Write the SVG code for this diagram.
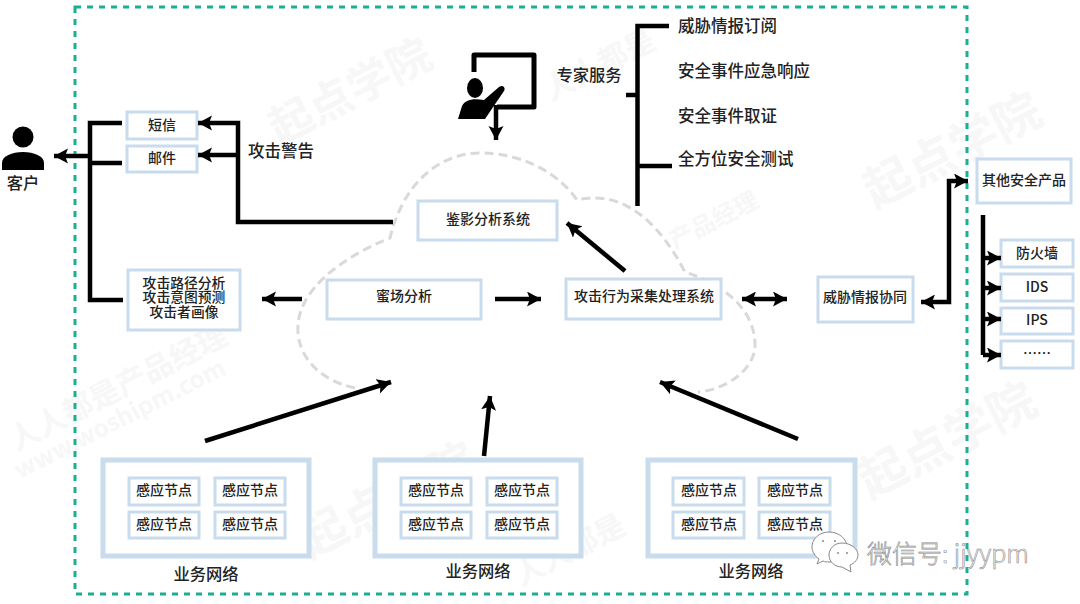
<svg xmlns="http://www.w3.org/2000/svg" width="1080" height="604" viewBox="0 0 1080 604">
<style>
text{font-family:"Noto Sans CJK SC","Liberation Sans",sans-serif;fill:#222;text-anchor:middle;dominant-baseline:central;font-weight:500}
.b{fill:#fff;stroke:#c9dcee;stroke-width:3}
.B{fill:#fff;stroke:#c9dcee;stroke-width:5}
.s{font-size:14px}
.m{font-size:16.3px}
.l{font-size:16.5px;text-anchor:start}
.c{fill:none;stroke:#000;stroke-width:4.5}
.a{marker-end:url(#h)}
text.w{fill:#f7f7f7;font-weight:700;text-anchor:start}
</style>
<defs>
<marker id="h" markerUnits="userSpaceOnUse" markerWidth="16" markerHeight="16" refX="14" refY="7.5" orient="auto"><path d="M0 0L14 7.5L0 15L3 7.5Z" fill="#000"/></marker>
<marker id="t" markerUnits="userSpaceOnUse" markerWidth="16" markerHeight="16" refX="0" refY="7.5" orient="auto"><path d="M14 0L0 7.5L14 15L11 7.5Z" fill="#000"/></marker>
</defs>
<rect width="1080" height="604" fill="#fff"/>
<g id="watermark">
<text class="w" transform="translate(10 440) rotate(-27)" style="font-size:30px">人人都是产品经理</text>
<text class="w" transform="translate(15 470) rotate(-27)" style="font-size:24px">www.woshipm.com</text>
<text class="w" transform="translate(545 90) rotate(-27)" style="font-size:30px">人人都是</text>
<text class="w" transform="translate(270 128) rotate(-27)" style="font-size:44px">起点学院</text>
<text class="w" transform="translate(865 190) rotate(-27)" style="font-size:48px">起点学院</text>
<text class="w" transform="translate(670 240) rotate(-27)" style="font-size:24px">产品经理</text>
<text class="w" transform="translate(300 540) rotate(-27)" style="font-size:48px">起点学院</text>
<text class="w" transform="translate(860 480) rotate(-27)" style="font-size:48px">起点学院</text>
<text class="w" transform="translate(515 575) rotate(-27)" style="font-size:30px">人人都是</text>
</g>
<rect id="frame" x="75" y="7" width="892" height="587" fill="none" stroke="#1aaf8f" stroke-width="3" stroke-dasharray="6 6"/>
<path id="cloud" d="M355 388C318 380 296 355 298 325C300 290 340 258 390 238C393 225 396 218 402 205C420 170 450 153 480 153C525 153 560 175 577 200C610 192 650 205 685 272C725 285 755 310 755 345C755 370 725 390 698 392" fill="none" stroke="#d9d9d9" stroke-width="3" stroke-dasharray="9 5"/>
<g id="customer"><circle cx="23" cy="137" r="10.5"/><path d="M2 170V163C2 156 12 152 23 152S44 156 44 163V170Z"/><text class="m" x="23" y="182">客户</text></g>
<g id="expert"><path d="M474 72V55H534V107H497" fill="none" stroke="#000" stroke-width="5" stroke-linejoin="round"/><ellipse cx="475" cy="88" rx="8" ry="10"/><path d="M458 119L462 106C465 100 472 98 484 100L499 87C503 84 506 88 504 91L485 119Z"/></g>
<g id="labels">
<text class="m" x="589" y="74">专家服务</text>
<text class="l" x="678" y="25">威胁情报订阅</text>
<text class="l" x="678" y="70">安全事件应急响应</text>
<text class="l" x="678" y="115">安全事件取证</text>
<text class="l" x="678" y="158">全方位安全测试</text>
<text class="l" x="248" y="150">攻击警告</text>
<text class="m" x="206" y="573">业务网络</text>
<text class="m" x="478" y="570">业务网络</text>
<text class="m" x="751" y="570">业务网络</text>
</g>
<g id="sms"><rect class="b" x="127" y="112" width="70" height="27"/><text class="s" x="162" y="124">短信</text></g>
<g id="mail"><rect class="b" x="127" y="146" width="70" height="26"/><text class="s" x="162" y="157">邮件</text></g>
<g id="profile"><rect class="b" x="128" y="270" width="112" height="60"/><text class="s" y="281.5" style="font-size:13.8px"><tspan x="184">攻击路径分析</tspan><tspan x="184" dy="14.5">攻击意图预测</tspan><tspan x="184" dy="14.5">攻击者画像</tspan></text></g>
<g id="honey"><rect class="b" x="327" y="280" width="154" height="39"/><text class="s" x="404" y="295">蜜场分析</text></g>
<g id="forensic"><rect class="b" x="418" y="201" width="139" height="39"/><text class="s" x="488" y="218">鉴影分析系统</text></g>
<g id="collect"><rect class="b" x="566" y="279" width="155" height="40"/><text class="s" x="644" y="295">攻击行为采集处理系统</text></g>
<g id="intel"><rect class="b" x="818" y="277" width="95" height="45"/><text class="s" x="865" y="296">威胁情报协同</text></g>
<g id="other"><rect class="b" x="977" y="159" width="94" height="44"/><text class="s" x="1024" y="179">其他安全产品</text></g>
<g id="fw"><rect class="b" x="1001" y="240" width="72" height="27"/><text class="s" x="1037" y="252">防火墙</text></g>
<g id="ids"><rect class="b" x="1001" y="274" width="72" height="27"/><text class="s" x="1037" y="286">IDS</text></g>
<g id="ips"><rect class="b" x="1001" y="308" width="72" height="26"/><text class="s" x="1037" y="319">IPS</text></g>
<g id="more"><rect class="b" x="1001" y="341" width="72" height="27"/><text class="s" x="1037" y="352">……</text></g>
<g id="net1"><rect class="B" x="103" y="460" width="206" height="96"/>
<rect class="b" x="129" y="478" width="70" height="27"/><text class="s" x="164" y="489">感应节点</text>
<rect class="b" x="215" y="478" width="70" height="27"/><text class="s" x="250" y="489">感应节点</text>
<rect class="b" x="129" y="512" width="70" height="26"/><text class="s" x="164" y="523">感应节点</text>
<rect class="b" x="215" y="512" width="70" height="26"/><text class="s" x="250" y="523">感应节点</text></g>
<g id="net2"><rect class="B" x="375" y="460" width="206" height="96"/>
<rect class="b" x="401" y="478" width="70" height="27"/><text class="s" x="436" y="489">感应节点</text>
<rect class="b" x="487" y="478" width="70" height="27"/><text class="s" x="522" y="489">感应节点</text>
<rect class="b" x="401" y="512" width="70" height="26"/><text class="s" x="436" y="523">感应节点</text>
<rect class="b" x="487" y="512" width="70" height="26"/><text class="s" x="522" y="523">感应节点</text></g>
<g id="net3"><rect class="B" x="648" y="460" width="207" height="96"/>
<rect class="b" x="673" y="478" width="71" height="27"/><text class="s" x="709" y="489">感应节点</text>
<rect class="b" x="759" y="478" width="71" height="27"/><text class="s" x="795" y="489">感应节点</text>
<rect class="b" x="673" y="512" width="71" height="26"/><text class="s" x="709" y="523">感应节点</text>
<rect class="b" x="759" y="512" width="71" height="26"/><text class="s" x="795" y="523">感应节点</text></g>
<g id="connectors">
<path class="c" d="M122 123H90V300H123M122 163H90"/>
<path class="c a" d="M90 156H54"/>
<path class="c a" d="M393 222H238V123H198"/>
<path class="c a" d="M238 155H198"/>
<path class="c a" d="M302 299H262"/>
<path class="c a" d="M495 299H541"/>
<path class="c a" d="M625 271L567 223"/>
<path class="c a" d="M742 299H787" style="marker-start:url(#t)"/>
<path class="c a" d="M921 302H949V181H968" style="marker-start:url(#t)"/>
<path class="c" d="M983 215V355"/>
<path class="c a" d="M983 258H1001"/>
<path class="c a" d="M983 288H1001"/>
<path class="c a" d="M983 319H1001"/>
<path class="c a" d="M983 355H1001"/>
<path class="c a" d="M205 441L391 382"/>
<path class="c a" d="M484 456L490 396"/>
<path class="c a" d="M798 439L660 382"/>
<path class="c a" d="M496 105V140"/>
<path class="c" d="M637.5 206V26H669M626 95H637.5M637.5 166H672"/>
</g>
<g id="wechat">
<path d="M829 532C819 532 812 539 812 547C812 552 815 556 819 559L817 564L823 561C825 562 827 562 829 562C840 562 847 555 847 547C847 539 839 532 829 532Z" fill="#fff" stroke="#888"/>
<path d="M842 543C834 543 829 549 829 555C829 562 835 567 842 567L851 572L850 565C855 563 858 559 858 555C858 549 851 543 842 543Z" fill="#fff" stroke="#888"/>
<circle cx="823" cy="541" r="1" fill="#888"/><circle cx="835" cy="541" r="1" fill="#888"/><circle cx="838" cy="553" r="1" fill="#888"/><circle cx="847" cy="553" r="1" fill="#888"/>
<text x="867" y="552" style="font-size:25px;text-anchor:start;font-weight:300;fill:#fff;stroke:#888;stroke-width:.6">微信号: jjyypm</text>
</g>
</svg>
